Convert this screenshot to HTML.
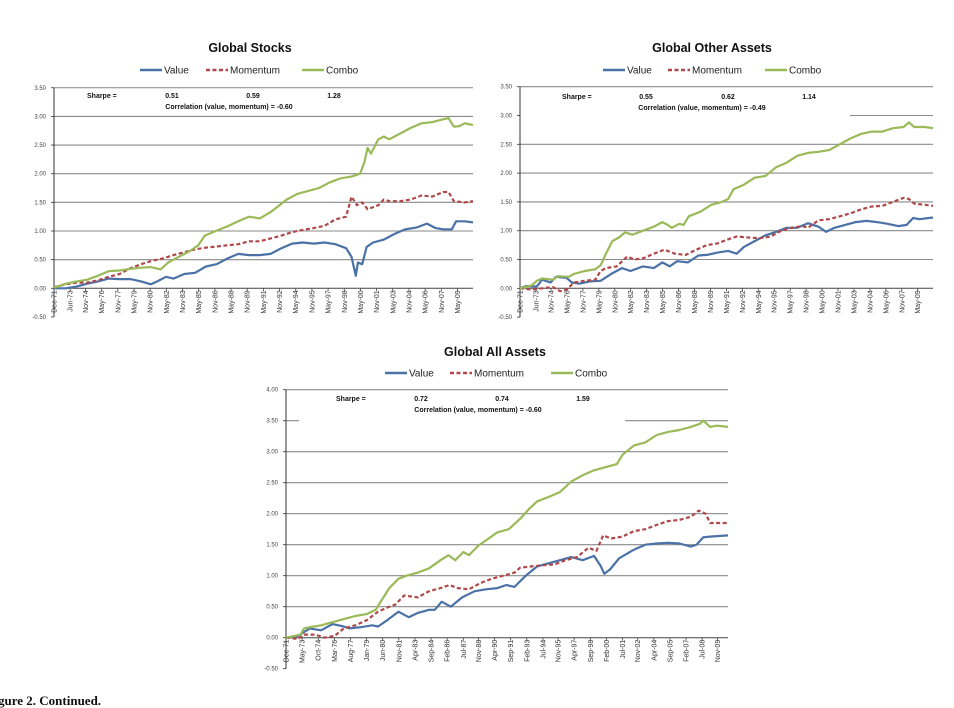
<!DOCTYPE html>
<html><head><meta charset="utf-8">
<style>
body{margin:0;background:#fff;width:954px;height:708px;overflow:hidden;font-family:"Liberation Sans",sans-serif;}
svg{position:absolute;left:0;top:0;}
</style></head>
<body>
<svg id="fig" width="954" height="708" viewBox="0 0 954 708"></svg>
<script>
// ---- data: Global Stocks ----
const gsTicks = ["Dec-71","Jun-73","Nov-74","May-76","Nov-77","May-79","Nov-80","May-82","Nov-83","May-85","Nov-86","May-88","Nov-89","May-91","Nov-92","May-94","Nov-95","May-97","Nov-98","May-00","Nov-01","May-03","Nov-04","May-06","Nov-07","May-09"];
const gsSharpe = ["0.51","0.59","1.28"];
const gsCorr = "-0.60";
const gsValue = [[1971.92,0],[1973,0],[1974,0.03],[1975,0.08],[1976,0.12],[1977,0.17],[1978,0.16],[1979,0.16],[1980,0.12],[1980.9,0.07],[1981.5,0.12],[1982.3,0.2],[1983,0.17],[1984,0.25],[1985,0.27],[1986,0.38],[1987,0.42],[1988,0.52],[1989,0.6],[1990,0.58],[1991,0.58],[1992,0.6],[1993,0.7],[1994,0.78],[1995,0.8],[1996,0.78],[1997,0.8],[1998,0.77],[1999,0.7],[1999.5,0.55],[1999.9,0.22],[2000.1,0.45],[2000.5,0.42],[2000.9,0.72],[2001.5,0.8],[2002.5,0.85],[2003.5,0.95],[2004.5,1.03],[2005.5,1.06],[2006.5,1.13],[2007.3,1.05],[2008,1.03],[2008.8,1.03],[2009.2,1.17],[2010,1.17],[2010.77,1.15]];
const gsMomentum = [[1971.92,0.02],[1973,0.07],[1974,0.1],[1975,0.1],[1976,0.14],[1977,0.2],[1978,0.25],[1979,0.35],[1980,0.42],[1981,0.48],[1982,0.52],[1983,0.58],[1984,0.63],[1985,0.68],[1986,0.71],[1987,0.73],[1988,0.75],[1989,0.77],[1990,0.82],[1991,0.82],[1992,0.87],[1993,0.92],[1994,0.98],[1995,1.02],[1996,1.05],[1997,1.09],[1998,1.2],[1999,1.25],[1999.5,1.6],[2000,1.45],[2000.5,1.5],[2001,1.38],[2002,1.45],[2002.5,1.55],[2003,1.52],[2004,1.52],[2005,1.55],[2006,1.62],[2007,1.6],[2008,1.68],[2008.5,1.68],[2009,1.52],[2010,1.5],[2010.77,1.52]];
const gsCombo = [[1971.92,0.01],[1973,0.08],[1974,0.12],[1975,0.15],[1976,0.22],[1977,0.3],[1978,0.31],[1979,0.34],[1980,0.36],[1980.9,0.37],[1981.8,0.33],[1982.5,0.45],[1983.5,0.55],[1984.5,0.65],[1985.3,0.75],[1985.9,0.92],[1986.9,1.0],[1988,1.08],[1989,1.17],[1990,1.25],[1991,1.22],[1992,1.33],[1993.5,1.55],[1994.5,1.65],[1995.5,1.7],[1996.5,1.75],[1997.5,1.85],[1998.5,1.92],[1999.5,1.95],[2000.3,2.0],[2000.7,2.2],[2001.0,2.45],[2001.3,2.35],[2002,2.6],[2002.5,2.65],[2003,2.6],[2004,2.7],[2005,2.8],[2006,2.88],[2007,2.9],[2008,2.95],[2008.5,2.97],[2009,2.82],[2009.5,2.83],[2010,2.88],[2010.77,2.85]];
// ---- data: Global Other Assets ----
const goTicks = gsTicks;
const goSharpe = ["0.55","0.62","1.14"];
const goCorr = "-0.49";
const goValue = [[1971.92,0.0],[1972.5,0.04],[1973.5,0.03],[1974,0.15],[1974.8,0.1],[1975.3,0.2],[1976.3,0.18],[1976.8,0.1],[1977.5,0.08],[1978.5,0.12],[1979.5,0.13],[1980.5,0.25],[1981.5,0.35],[1982.3,0.3],[1983.5,0.38],[1984.5,0.35],[1985.3,0.45],[1986,0.38],[1986.7,0.47],[1987.7,0.45],[1988.7,0.57],[1989.5,0.58],[1990.5,0.62],[1991.5,0.65],[1992.3,0.6],[1993,0.72],[1994,0.82],[1995,0.92],[1996,0.98],[1997,1.05],[1998,1.05],[1999,1.13],[2000,1.07],[2000.7,0.98],[2001.5,1.05],[2002.5,1.1],[2003.5,1.15],[2004.5,1.17],[2005.5,1.15],[2006.5,1.12],[2007.5,1.08],[2008.3,1.1],[2008.9,1.22],[2009.5,1.2],[2010.77,1.23]];
const goMomentum = [[1971.92,0.0],[1973,-0.02],[1974,0.0],[1975,0.02],[1975.7,-0.05],[1976.3,-0.02],[1977,0.1],[1978,0.13],[1979,0.15],[1979.5,0.3],[1980,0.35],[1981,0.38],[1982,0.55],[1982.7,0.5],[1983.5,0.52],[1984.5,0.6],[1985.5,0.67],[1986.5,0.6],[1987.5,0.58],[1988.5,0.67],[1989.5,0.75],[1990.5,0.78],[1991.5,0.85],[1992.3,0.9],[1993.5,0.88],[1994.5,0.87],[1995.5,0.9],[1996.5,1.0],[1997.5,1.05],[1998.5,1.08],[1999,1.05],[2000,1.18],[2001,1.2],[2002,1.25],[2003,1.3],[2004,1.37],[2005,1.42],[2006,1.43],[2007,1.5],[2008,1.57],[2008.5,1.55],[2009,1.47],[2010,1.45],[2010.77,1.43]];
const goCombo = [[1971.92,0.0],[1973,0.05],[1973.5,0.13],[1974,0.17],[1975,0.15],[1975.5,0.21],[1976.5,0.2],[1977,0.25],[1978,0.3],[1979,0.33],[1979.5,0.4],[1980,0.6],[1980.6,0.82],[1981.2,0.88],[1981.8,0.97],[1982.5,0.93],[1983.5,1.0],[1984.5,1.07],[1985.3,1.15],[1985.8,1.1],[1986.2,1.05],[1986.9,1.12],[1987.3,1.1],[1987.8,1.25],[1988.9,1.33],[1989.9,1.45],[1990.9,1.5],[1991.5,1.55],[1992,1.72],[1993,1.8],[1994,1.92],[1995,1.95],[1996,2.1],[1997,2.18],[1998,2.3],[1999,2.35],[2000,2.37],[2001,2.4],[2002,2.5],[2003,2.6],[2004,2.68],[2005,2.72],[2006,2.72],[2007,2.78],[2008,2.8],[2008.5,2.88],[2009,2.8],[2010,2.8],[2010.77,2.78]];
// ---- data: Global All Assets ----
const gaTicks = ["Dec-71","May-73","Oct-74","Mar-76","Aug-77","Jan-79","Jun-80","Nov-81","Apr-83","Sep-84","Feb-86","Jul-87","Nov-88","Apr-90","Sep-91","Feb-93","Jul-94","Nov-95","Apr-97","Sep-98","Feb-00","Jul-01","Nov-02","Apr-04","Sep-05","Feb-07","Jul-08","Nov-09"];
const gaSharpe = ["0.72","0.74","1.59"];
const gaCorr = "-0.60";
const gaValue = [[1971.92,0.0],[1973,0.03],[1974,0.15],[1975,0.12],[1976,0.22],[1977,0.18],[1977.5,0.15],[1978.5,0.17],[1979.5,0.2],[1980,0.18],[1980.8,0.28],[1981.8,0.42],[1982.7,0.33],[1983.5,0.4],[1984.5,0.45],[1985,0.45],[1985.6,0.58],[1986.4,0.5],[1987.4,0.65],[1988.5,0.75],[1989.5,0.78],[1990.5,0.8],[1991.3,0.85],[1992,0.82],[1993,1.0],[1994,1.15],[1995,1.2],[1996,1.25],[1997,1.3],[1998,1.25],[1999,1.32],[1999.6,1.15],[1999.9,1.03],[2000.4,1.1],[2001.2,1.28],[2002.5,1.42],[2003.5,1.5],[2004.5,1.52],[2005.5,1.53],[2006.5,1.52],[2007.5,1.47],[2008,1.5],[2008.6,1.62],[2009.2,1.63],[2010.77,1.65]];
const gaMomentum = [[1971.92,0.0],[1973,-0.02],[1973.5,0.05],[1974.5,0.05],[1975.3,0.0],[1976.2,0.03],[1977,0.15],[1978,0.2],[1979,0.28],[1980,0.42],[1981,0.5],[1981.5,0.53],[1982.3,0.68],[1983.5,0.65],[1984.5,0.75],[1985.5,0.8],[1986.3,0.85],[1987,0.8],[1988,0.78],[1989,0.88],[1990,0.95],[1991,1.0],[1992,1.05],[1992.5,1.13],[1993.5,1.15],[1994.5,1.17],[1995.5,1.18],[1996.5,1.25],[1997.5,1.3],[1998.5,1.45],[1999.2,1.4],[1999.8,1.65],[2000.5,1.6],[2001.5,1.63],[2002.5,1.72],[2003.5,1.75],[2004.5,1.82],[2005.5,1.88],[2006.5,1.9],[2007.5,1.95],[2008.2,2.05],[2008.8,2.0],[2009.2,1.85],[2010.77,1.85]];
const gaCombo = [[1971.92,0.0],[1973.2,0.05],[1973.5,0.15],[1974,0.17],[1975,0.2],[1976,0.25],[1977,0.3],[1978,0.35],[1979,0.38],[1979.8,0.45],[1980.3,0.6],[1981,0.8],[1981.8,0.95],[1982.5,1.0],[1983.5,1.05],[1984.5,1.12],[1985.5,1.25],[1986.2,1.33],[1986.8,1.25],[1987.5,1.38],[1988,1.33],[1988.8,1.48],[1989.5,1.57],[1990.5,1.7],[1991.5,1.75],[1992.5,1.92],[1993.3,2.08],[1994,2.2],[1995,2.27],[1996,2.35],[1997,2.52],[1998,2.62],[1999,2.7],[2000,2.75],[2001,2.8],[2001.5,2.95],[2002.5,3.1],[2003.5,3.15],[2004.5,3.27],[2005.5,3.32],[2006.5,3.35],[2007.5,3.4],[2008.3,3.45],[2008.6,3.5],[2009.2,3.4],[2009.8,3.42],[2010.77,3.4]];
const stocksYTicks = [-0.5,0,0.5,1,1.5,2,2.5,3,3.5];
const allYTicks = [-0.5,0,0.5,1,1.5,2,2.5,3,3.5,4];

const NS="http://www.w3.org/2000/svg";
const svg=document.getElementById('fig');
const MON={Jan:0,Feb:1,Mar:2,Apr:3,May:4,Jun:5,Jul:6,Aug:7,Sep:8,Oct:9,Nov:10,Dec:11};
function mk(tag,attrs,parent){const e=document.createElementNS(NS,tag);for(const k in attrs)e.setAttribute(k,attrs[k]);(parent||svg).appendChild(e);return e;}
function tickT(lbl){const p=lbl.split('-');const yy=parseInt(p[1],10);return (yy<50?2000:1900)+yy+MON[p[0]]/12;}

function drawChart(c){
  const g=mk('g',{});
  
  
  const T0=1971.917,T1=2010.77;
  const x=t=>c.L+(t-T0)/(T1-T0)*(c.R-c.L);
  const y=v=>c.y0-v*c.unit;
  const ti=mk('text',{x:c.cx,y:c.titleY,'text-anchor':'middle','font-size':12.5,'font-weight':'bold',fill:'#111'},g);
  ti.textContent=c.title;
  
  
  const lg=mk('g',{},g);
  
  
  const ly=c.legY;
  c.leg.forEach((p,i)=>{
    const e=mk('g',{},lg);
    
    
    mk('line',{x1:p.x,x2:p.x+22,y1:ly,y2:ly,stroke:p.color,'stroke-width':2.4,'stroke-dasharray':p.dash||'none'},e);
    const t=mk('text',{x:p.x+24,y:ly+3.5,'font-size':10,fill:'#222'},e);t.textContent=p.label;
  });
  c.yTicks.forEach(v=>{
    if(v<=0)return;
    const yy=y(v);
    const segs=(c.partial&&c.partial[v])?c.partial[v]:[[c.L,c.R]];
    segs.forEach(s=>{
      const gl=mk('line',{x1:s[0],x2:s[1],y1:yy,y2:yy,stroke:'#8a8a8a','stroke-width':1.1},g);
      
      
    });
  });
  c.yTicks.forEach(v=>{
    const t=mk('text',{x:c.L-8,y:y(v)+2,'text-anchor':'end','font-size':6,fill:'#444'},g);
    t.textContent=v.toFixed(2);
    
    
    mk('line',{x1:c.L-3,x2:c.L,y1:y(v),y2:y(v),stroke:'#333','stroke-width':0.8},g);
  });
  const ya=mk('line',{x1:c.L,x2:c.L,y1:y(c.yTicks[0]),y2:y(c.yTicks[c.yTicks.length-1]),stroke:'#333','stroke-width':1},g);
  
  
  const xa=mk('line',{x1:c.L,x2:c.R,y1:y(0),y2:y(0),stroke:'#444','stroke-width':1},g);
  
  
  c.xTicks.forEach(l=>{
    const xx=x(tickT(l));
    mk('line',{x1:xx,x2:xx,y1:y(0),y2:y(0)+3,stroke:'#444','stroke-width':0.8},g);
    const t=mk('text',{x:0,y:0,'text-anchor':'end','font-size':7,fill:'#333',transform:`translate(${xx+2.5},${y(0)+2}) rotate(-90)`},g);
    t.textContent=l;
    
    
  });
  const st=mk('g',{'font-size':7,'font-weight':'bold',fill:'#111'},g);
  
  
  let t=mk('text',{x:c.sh.x,y:c.sh.y},st);t.textContent='Sharpe =';
  c.sharpe.forEach((s,i)=>{const e=mk('text',{x:c.sh.cols[i],y:c.sh.y,'text-anchor':'middle'},st);e.textContent=s;});
  t=mk('text',{x:c.sh.cx,y:c.sh.y+11,'text-anchor':'middle'},st);t.textContent='Correlation (value, momentum) =  '+c.corr;
  c.series.forEach(s=>{
    const d=s.data.map((p,i)=>(i?'L':'M')+x(p[0]).toFixed(1)+','+y(p[1]).toFixed(1)).join(' ');
    const pth=mk('path',{d:d,fill:'none',stroke:s.color,'stroke-width':2.2,'stroke-linejoin':'round','stroke-dasharray':s.dash||'none'},g);
    
    
  });
}
const BLUE='#4a72a6',RED='#b0484a',GREEN='#9aba58';
function mkSeries(v,m,cb){return [{key:'value',data:v,color:BLUE},{key:'momentum',data:m,color:RED,dash:'4 2.5'},{key:'combo',data:cb,color:GREEN}];}
drawChart({name:'chart-global-stocks',title:'Global Stocks',cx:250,titleY:52,legY:70,L:54,R:473,y0:288.3,unit:57.3,yTicks:stocksYTicks,xTicks:gsTicks,
 leg:[{x:140,label:'Value',color:BLUE},{x:206,label:'Momentum',color:RED,dash:'4 2.5'},{x:302,label:'Combo',color:GREEN}],
 sh:{x:87,y:98,cols:[172,253,334],cx:229},sharpe:gsSharpe,corr:gsCorr,series:mkSeries(gsValue,gsMomentum,gsCombo)});
drawChart({name:'chart-global-other-assets',title:'Global Other Assets',cx:712,titleY:52,legY:70,L:520,R:933,y0:288.3,unit:57.6,yTicks:stocksYTicks,xTicks:goTicks,
 partial:{3:[[850,933]]},
 leg:[{x:603,label:'Value',color:BLUE},{x:668,label:'Momentum',color:RED,dash:'4 2.5'},{x:765,label:'Combo',color:GREEN}],
 sh:{x:562,y:99,cols:[646,728,809],cx:702},sharpe:goSharpe,corr:goCorr,series:mkSeries(goValue,goMomentum,goCombo)});
drawChart({name:'chart-global-all-assets',title:'Global All Assets',cx:495,titleY:356,legY:373,L:286,R:728,y0:637.7,unit:62,yTicks:allYTicks,xTicks:gaTicks,
 partial:{3.5:[[286,299],[625,728]]},
 leg:[{x:385,label:'Value',color:BLUE},{x:450,label:'Momentum',color:RED,dash:'4 2.5'},{x:551,label:'Combo',color:GREEN}],
 sh:{x:336,y:401,cols:[421,502,583],cx:478},sharpe:gaSharpe,corr:gaCorr,series:mkSeries(gaValue,gaMomentum,gaCombo)});
const cap=mk('text',{x:-2,y:705,'font-size':13,'font-weight':'bold','font-family':'Liberation Serif, serif',fill:'#111'});
cap.textContent='gure 2.  Continued.';


</script>
</body></html>
